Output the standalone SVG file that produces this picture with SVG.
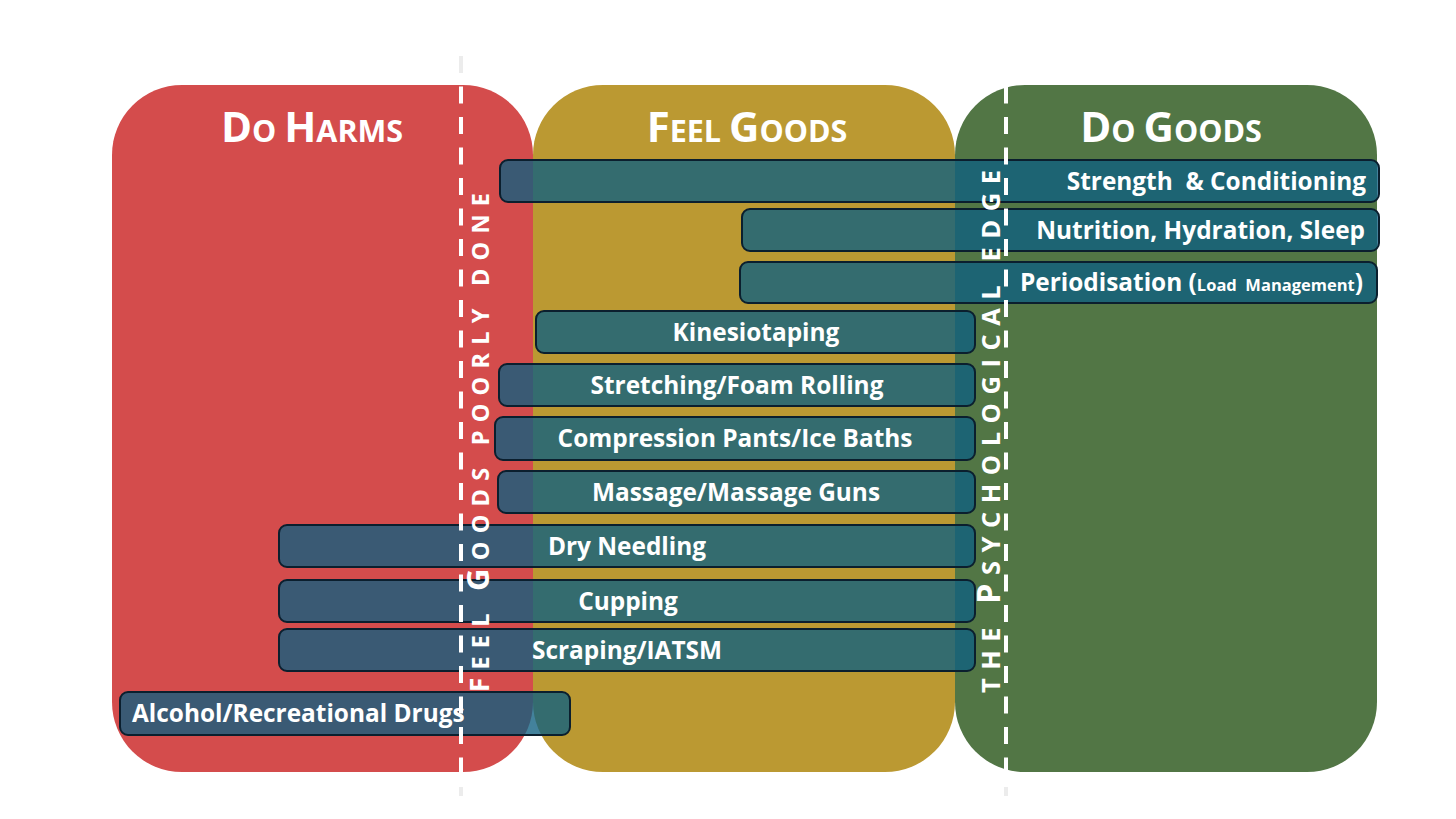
<svg xmlns="http://www.w3.org/2000/svg" width="1456" height="819" viewBox="0 0 1456 819">
<style>
.zone{stroke:none}
.hdr{font-family:"Open Sans","Liberation Sans",sans-serif;font-weight:700;fill:#fff;text-anchor:middle}
.bar{fill:#0e5f80;fill-opacity:.78;stroke:#0b1f2e;stroke-width:2}
.lbl{font-family:"Open Sans","Liberation Sans",sans-serif;font-weight:700;font-size:24.4px;fill:#fff}
.vt{font-family:"Open Sans","Liberation Sans",sans-serif;font-weight:700;fill:#fff}
.dash{stroke:#fff;stroke-width:4;stroke-dasharray:17 13.5;fill:none}
.dashg{stroke:#ececec;stroke-width:4;fill:none}
</style>
<rect width="1456" height="819" fill="#fff"/>
<g id="zone-do-harms">
<rect class="zone" x="112" y="85" width="421" height="687" rx="70" fill="#d44c4c"/>
<text class="hdr" x="312" y="142"><tspan font-size="42">D</tspan><tspan font-size="30.5">O </tspan><tspan font-size="42">H</tspan><tspan font-size="30.5">ARMS</tspan></text>
</g>
<g id="zone-feel-goods">
<rect class="zone" x="533" y="85" width="422" height="687" rx="70" fill="#bb9932"/>
<text class="hdr" x="747" y="142"><tspan font-size="42">F</tspan><tspan font-size="30.5">EEL </tspan><tspan font-size="42">G</tspan><tspan font-size="30.5">OODS</tspan></text>
</g>
<g id="zone-do-goods">
<rect class="zone" x="955" y="85" width="422" height="687" rx="70" fill="#527645"/>
<text class="hdr" x="1171" y="142"><tspan font-size="42">D</tspan><tspan font-size="30.5">O </tspan><tspan font-size="42">G</tspan><tspan font-size="30.5">OODS</tspan></text>
</g>
<g id="bar-strength"><rect class="bar" x="500" y="160" width="879" height="42" rx="8"/><text class="lbl" x="1366" y="190" text-anchor="end">Strength&#160; &amp; Conditioning</text></g>
<g id="bar-nutrition"><rect class="bar" x="742" y="209" width="637" height="42" rx="8"/><text class="lbl" x="1365" y="239" text-anchor="end">Nutrition, Hydration, Sleep</text></g>
<g id="bar-periodisation"><rect class="bar" x="740" y="262" width="637" height="41" rx="8"/><text class="lbl" x="1363" y="291" text-anchor="end">Periodisation (<tspan font-size="16.5">Load&#160; Management</tspan>)</text></g>
<g id="bar-kinesiotaping"><rect class="bar" x="536" y="311" width="439" height="42" rx="8"/><text class="lbl" x="756" y="341" text-anchor="middle">Kinesiotaping</text></g>
<g id="bar-stretching"><rect class="bar" x="499" y="364" width="476" height="42" rx="8"/><text class="lbl" x="737" y="394" text-anchor="middle">Stretching/Foam Rolling</text></g>
<g id="bar-compression"><rect class="bar" x="495" y="417" width="480" height="43" rx="8"/><text class="lbl" x="735" y="447" text-anchor="middle">Compression Pants/Ice Baths</text></g>
<g id="bar-massage"><rect class="bar" x="498" y="471" width="477" height="42" rx="8"/><text class="lbl" x="736" y="501" text-anchor="middle">Massage/Massage Guns</text></g>
<g id="bar-dry-needling"><rect class="bar" x="279" y="525" width="696" height="42" rx="8"/><text class="lbl" x="627" y="555" text-anchor="middle">Dry Needling</text></g>
<g id="bar-cupping"><rect class="bar" x="279" y="580" width="696" height="42" rx="8"/><text class="lbl" x="628" y="610" text-anchor="middle">Cupping</text></g>
<g id="bar-scraping"><rect class="bar" x="279" y="629" width="696" height="42" rx="8"/><text class="lbl" x="627" y="659" text-anchor="middle">Scraping/IATSM</text></g>
<g id="bar-alcohol"><rect class="bar" x="120" y="692" width="450" height="43" rx="8"/><text class="lbl" x="132" y="722">Alcohol/Recreational Drugs</text></g>
<g id="dividers">
<line class="dash" x1="461" y1="56" x2="461" y2="772"/>
<line class="dash" x1="1006" y1="56" x2="1006" y2="772"/>
<line class="dashg" x1="461" y1="56" x2="461" y2="73"/>
<line class="dashg" x1="461" y1="787" x2="461" y2="796"/>
<line class="dashg" x1="1006" y1="787" x2="1006" y2="796"/>
</g>
<g id="label-feel-goods-poorly-done">
<text class="vt" transform="translate(489,692) rotate(-90)" x="0" y="0" textLength="499" lengthAdjust="spacing"><tspan font-size="26">F</tspan><tspan font-size="23.5">EEL </tspan><tspan font-size="31">G</tspan><tspan font-size="23.5">OODS POORLY DONE</tspan></text>
</g>
<g id="label-psychological-edge">
<text class="vt" transform="translate(1000,693) rotate(-90)" x="0" y="0" textLength="523" lengthAdjust="spacing"><tspan font-size="25.5">THE </tspan><tspan font-size="32">P</tspan><tspan font-size="25.5">SYCHOLOGICAL EDGE</tspan></text>
</g>
</svg>
